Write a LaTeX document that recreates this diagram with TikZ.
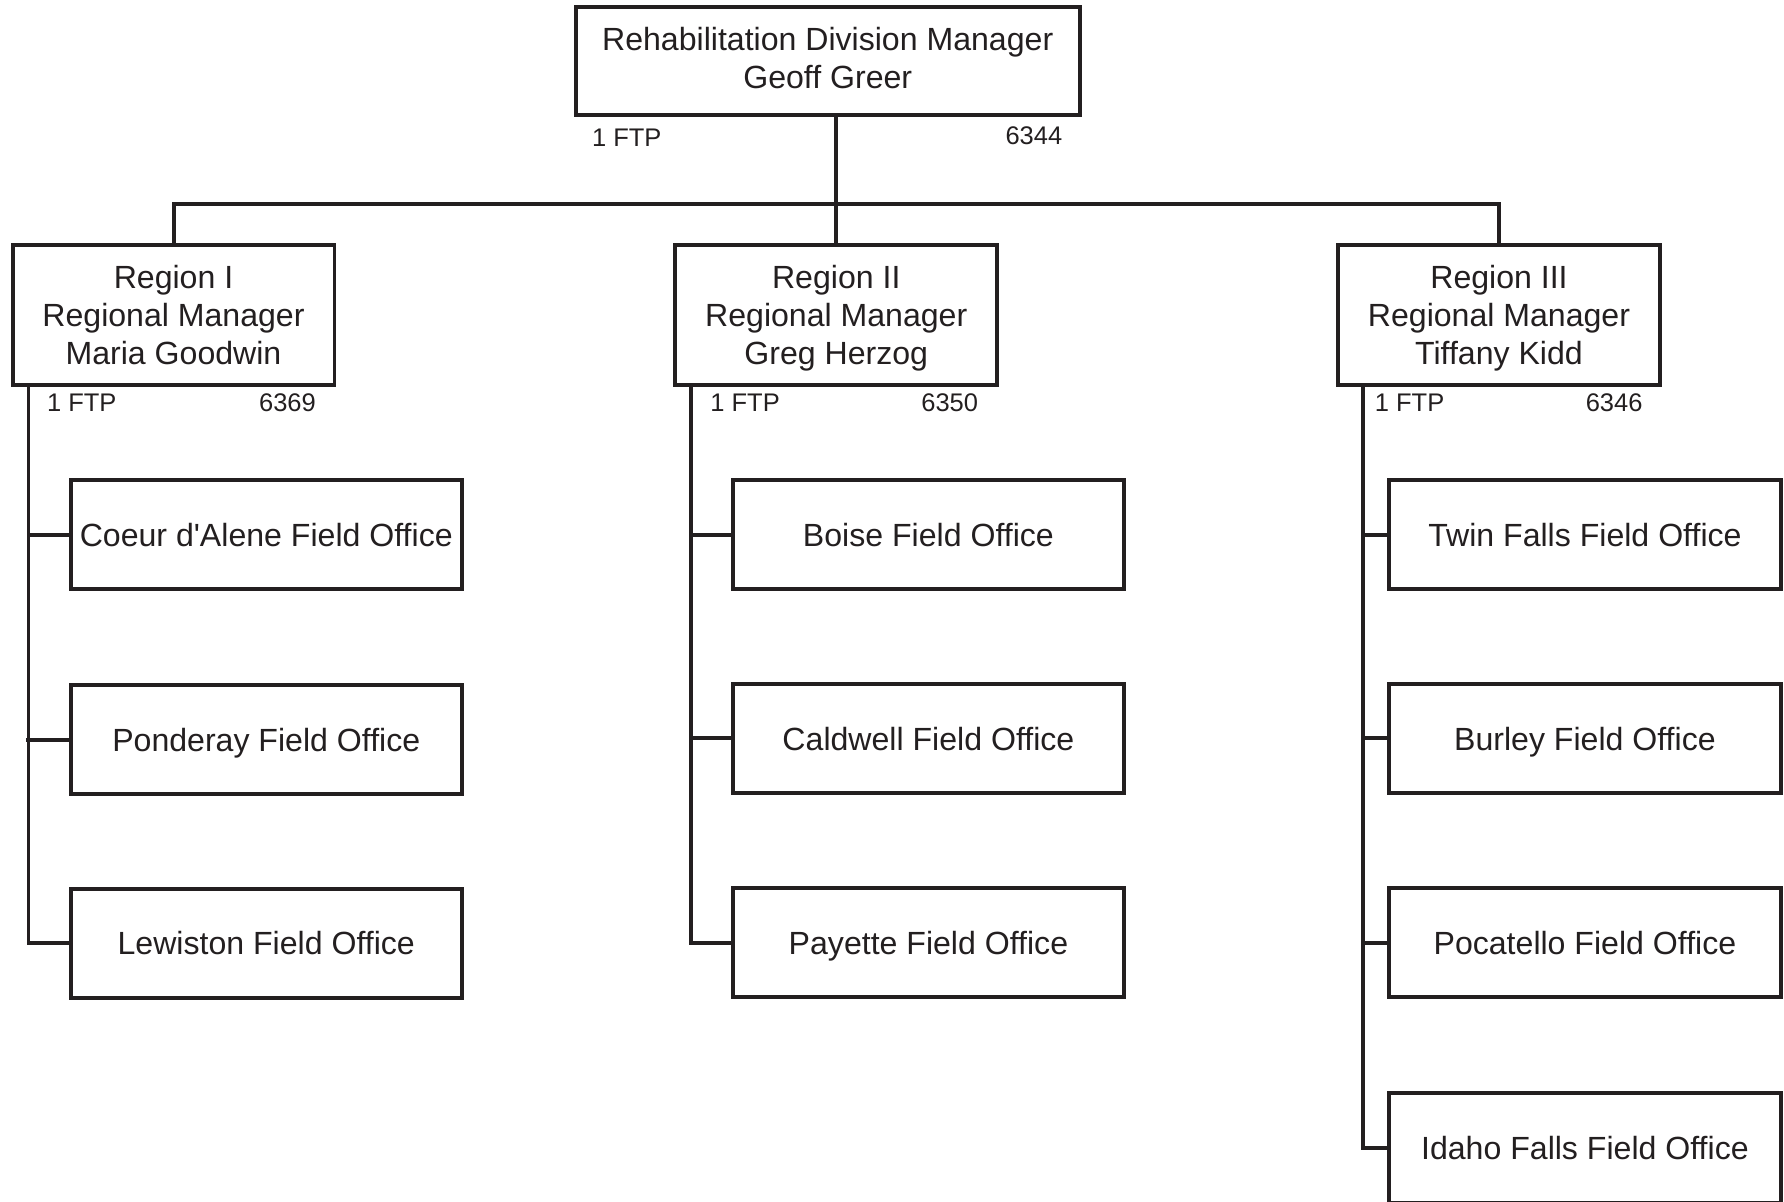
\documentclass[tikz,border=0pt]{standalone}
\usepackage{fontspec}
\setmainfont{Liberation Sans}
\definecolor{ink}{HTML}{231F20}
\begin{document}
\begin{tikzpicture}[x=0.5pt,y=-0.5pt,
  every node/.style={text=ink},
  box/.style={draw=ink, line width=1.75pt, inner sep=0pt, align=center,
    text depth=0pt, font=\fontsize{14.1}{16.75}\selectfont},
  topbox/.style={box, text depth=3pt, minimum width=221.5pt, minimum height=47.5pt},
  regionbox/.style={box, minimum width=141.5pt, minimum height=61.5pt},
  officebox/.style={box, minimum width=172pt, minimum height=48pt},
  tag/.style={inner sep=0pt, font=\fontsize{11.2}{13}\selectfont},
  link/.style={draw=ink, line width=1.75pt}
]
\useasboundingbox (0,0) rectangle (1568,1056);
\clip (0,0) rectangle (1568,1056);

% division manager
\node[topbox] (top) at (727.5,53.5) {Rehabilitation Division Manager\\Geoff Greer};
\node[tag, anchor=west] (topftp) at (520,121) {1 FTP};
\node[tag, anchor=east] (topcode) at (934,119) {6344};

% regional managers
\node[regionbox] (r1) at (152.5,276.5) {Region I\\Regional Manager\\Maria Goodwin};
\node[regionbox] (r2) at (735,276.5) {Region II\\Regional Manager\\Greg Herzog};
\node[regionbox] (r3) at (1317.5,276.5) {Region III\\Regional Manager\\Tiffany Kidd};

\node[tag, anchor=west] (ftp1) at (41,354) {1 FTP};
\node[tag, anchor=east] (code1) at (278,354) {6369};
\node[tag, anchor=west] (ftp2) at (624,354) {1 FTP};
\node[tag, anchor=east] (code2) at (860,354) {6350};
\node[tag, anchor=west] (ftp3) at (1208,354) {1 FTP};
\node[tag, anchor=east] (code3) at (1444,354) {6346};

% field offices, region I
\node[officebox] (f11) at (234,470) {Coeur d\textquotesingle Alene Field Office};
\node[officebox] (f12) at (234,650) {Ponderay Field Office};
\node[officebox] (f13) at (234,829) {Lewiston Field Office};
% field offices, region II
\node[officebox] (f21) at (816,470) {Boise Field Office};
\node[officebox] (f22) at (816,649) {Caldwell Field Office};
\node[officebox] (f23) at (816,828.5) {Payette Field Office};
% field offices, region III
\node[officebox] (f31) at (1393,470) {Twin Falls Field Office};
\node[officebox] (f32) at (1393,649) {Burley Field Office};
\node[officebox] (f33) at (1393,828.5) {Pocatello Field Office};
\node[officebox] (f34) at (1393,1009) {Idaho Falls Field Office};

% top-level bus
\coordinate (bus) at (735,179);
\draw[link] (top.south -| r2.north) -- (r2.north);
\draw[link] (r1.north) |- (bus) -| (r3.north);

% region spines
\coordinate (s1) at ([xshift=7.9pt]r1.south west);
\coordinate (s2) at ([xshift=7.9pt]r2.south west);
\coordinate (s3) at ([xshift=11.9pt]r3.south west);

\draw[link] (s1) |- (f13.west);
\draw[link] (f11.west) -- (f11.west -| s1);
\draw[link] (f12.west) -- ([xshift=-1.2pt]f12.west -| s1);

\draw[link] (s2) |- (f23.west);
\draw[link] (f21.west) -- (f21.west -| s2);
\draw[link] (f22.west) -- (f22.west -| s2);

\draw[link] (s3) |- (f34.west);
\draw[link] (f31.west) -- (f31.west -| s3);
\draw[link] (f32.west) -- (f32.west -| s3);
\draw[link] (f33.west) -- (f33.west -| s3);
\end{tikzpicture}
\end{document}
